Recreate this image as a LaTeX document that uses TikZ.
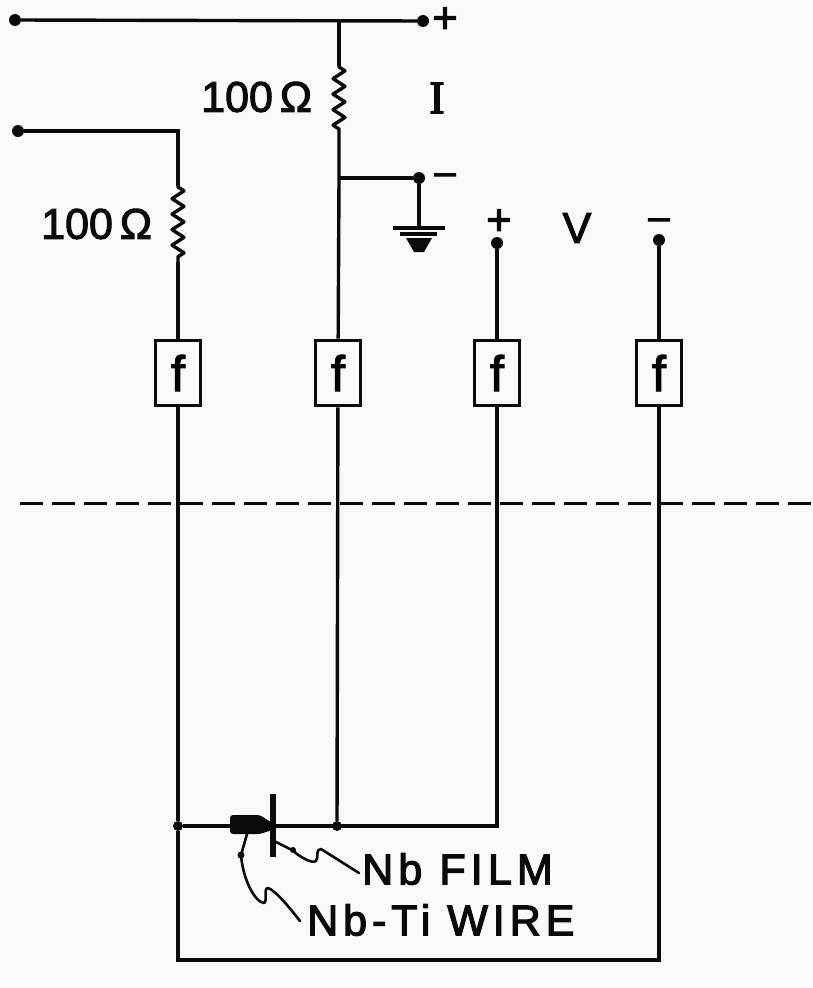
\documentclass[tikz,border=0pt]{standalone}
\usepackage{fontspec}
\setmainfont[FakeBold=2.4]{Liberation Sans}
\newfontfamily\spacedA[LetterSpace=12,FakeBold=2.8]{Liberation Sans}
\newfontfamily\spacedB[LetterSpace=11.5,FakeBold=2.8]{Liberation Sans}
\newfontfamily\serifI[FakeBold=3]{Liberation Serif}
\usetikzlibrary{decorations.pathmorphing}
\definecolor{ink}{HTML}{0A0A0A}
\definecolor{paper}{HTML}{F9F9F9}
\tikzset{
  wire/.style={draw=ink,line width=3.4pt},
  thin wire/.style={draw=ink,line width=2.6pt,line cap=round,line join=round},
  resist/.style={wire,line join=round,decorate,decoration={zigzag,segment length=15.5pt,amplitude=6pt,pre length=1pt,post length=1pt}},
  filt/.style={draw=ink,line width=3.6pt,fill=paper,minimum width=45pt,minimum height=65pt,inner sep=0pt,font=\fontsize{50}{50}\selectfont},
  term/.style={circle,fill=ink,inner sep=0pt,minimum size=12pt},
  jn/.style={circle,fill=ink,inner sep=0pt,minimum size=10pt},
  lab/.style={text=ink,inner sep=0pt,font=\fontsize{43}{43}\selectfont},
  plussign/.style={text=ink,inner sep=0pt,font=\fontsize{44}{44}\selectfont},
  minussign/.style={text=ink,inner sep=0pt,font=\fontsize{38}{38}\selectfont},
}
\begin{document}
\begin{tikzpicture}[x=1pt,y=-1pt]
\path[use as bounding box,fill=paper] (0,0) rectangle (813,988);
% terminals
\node[term] (tA) at (15,20) {};
\node[term] (tB) at (423,21) {};
\node[term] (tC) at (18,131) {};
\node[term] (tD) at (419,178) {};
\node[term] (tE) at (497,243) {};
\node[term] (tF) at (659,240) {};
% filters
\node[filt] (f1) at (178,373) {f};
\node[filt] (f2) at (338,373) {f};
\node[filt] (f3) at (497,373) {f};
\node[filt] (f4) at (659,373) {f};
% junctions
\node[jn] (j1) at (178,826) {};
\node[jn] (j2) at (337,826) {};
\coordinate (top) at (339,20);
\coordinate (mid) at (339,178);
\coordinate (r1a) at (339,66);
\coordinate (r1b) at (339,130);
\coordinate (corner) at (178,131);
\coordinate (r2a) at (178,186);
\coordinate (r2b) at (178,262);
\coordinate (c3) at (497,826);
\coordinate (c4) at (178,960);
\coordinate (c5) at (659,960);
\coordinate (g) at (419,229);
\coordinate (dl) at (20,503);
\coordinate (dr) at (813,503);
% top network
\draw[wire] (tA) -- (tB);
\draw[wire] (top) -- (r1a);
\draw[resist] (r1a) -- (r1b);
\draw[wire] (r1b) -- (mid) -- (f2);
\draw[wire] (mid) -- (tD) -- (g);
\draw[wire] (tC) -- (corner) -- (r2a);
\draw[resist] (r2a) -- (r2b);
\draw[wire] (r2b) -- (f1);
\draw[wire] (tE) -- (f3);
\draw[wire] (tF) -- (f4);
% ground
\coordinate (g1l) at (393,228); \coordinate (g1r) at (445,228);
\coordinate (g2l) at (400,234); \coordinate (g2r) at (437,234);
\draw[wire,line width=3.4pt] (g1l) -- (g1r);
\draw[wire,line width=3.4pt] (g2l) -- (g2r);
\fill[ink] (406,238) -- (432,238) -- (424,252) -- (414,252) -- cycle;
% lower wires
\draw[wire] (f1) -- (j1) -- (c3) -- (f3);
\draw[wire] (f2) -- (j2);
\draw[wire] (j1) -- (c4) -- (c5) -- (f4);
% dashed
\draw[draw=ink,line width=3pt,dash pattern=on 23pt off 9pt] (dl) -- (dr);
% junction element
\coordinate (b1) at (273,794); \coordinate (b2) at (273,857);
\draw[draw=ink,line width=5.5pt] (b1) -- (b2);
\fill[ink,rounded corners=3pt] (230,815) -- (260,815) -- (272,823) -- (272,830) -- (260,834) -- (230,834) -- cycle;
% leaders
\coordinate (w0) at (247,834);
\coordinate (f0) at (274,841);
\draw[thin wire] (f0) -- (292,850) .. controls (300,857) and (312,864) .. (316,861)
  .. controls (319,857) and (315,849) .. (321,849) -- (359,873);
\draw[thin wire] (w0) -- (241,855) .. controls (243,880) and (255,902) .. (264,903)
  .. controls (268,901) and (263,888) .. (268,888) .. controls (275,890) and (290,908) .. (300,921);
\fill[ink] (241,855) circle (3.5pt);
\fill[ink] (293,850) circle (3pt);
% labels
\node[lab,anchor=west] (l1) at (41,224) {100\kern7pt Ω};
\node[lab,anchor=west] (l2) at (201,97) {100\kern7pt Ω};
\node[lab] (lI) at (437,98) {\serifI\fontsize{46}{46}\selectfont I};
\node[lab] (lV) at (577,228) {V};
\node[plussign] (p1) at (445,20) {+};
\node[minussign] (m1) at (445,179) {–};
\node[plussign] (p2) at (499,222) {+};
\node[minussign] (m2) at (659,224) {–};
\node[lab,anchor=west] (nb) at (362,869) {\spacedA Nb FILM};
\node[lab,anchor=west] (nbt) at (307,920) {\spacedB Nb-Ti WIRE};
\end{tikzpicture}
\end{document}
